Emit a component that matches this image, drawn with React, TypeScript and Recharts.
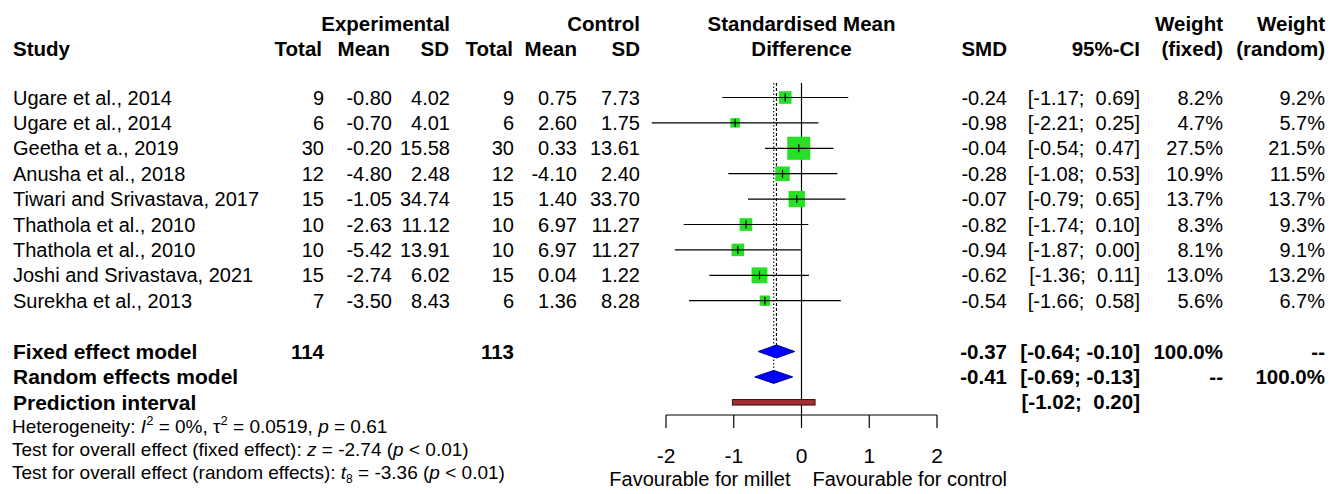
import React from "react";
import { ComposedChart, Scatter, XAxis, YAxis, ReferenceLine } from "recharts";

// study table
const studies = [
  "Ugare et al., 2014",
  "Ugare et al., 2014",
  "Geetha et a., 2019",
  "Anusha et al., 2018",
  "Tiwari and Srivastava, 2017",
  "Thathola et al., 2010",
  "Thathola et al., 2010",
  "Joshi and Srivastava, 2021",
  "Surekha et al., 2013",
];
const expTotal = [9, 6, 30, 12, 15, 10, 10, 15, 7];
const expMean = [-0.8, -0.7, -0.2, -4.8, -1.05, -2.63, -5.42, -2.74, -3.5];
const expSD = [4.02, 4.01, 15.58, 2.48, 34.74, 11.12, 13.91, 6.02, 8.43];
const ctlTotal = [9, 6, 30, 12, 15, 10, 10, 15, 6];
const ctlMean = [0.75, 2.6, 0.33, -4.1, 1.4, 6.97, 6.97, 0.04, 1.36];
const ctlSD = [7.73, 1.75, 13.61, 2.4, 33.7, 11.27, 11.27, 1.22, 8.28];
const smd = [-0.24, -0.98, -0.04, -0.28, -0.07, -0.82, -0.94, -0.62, -0.54];
const ciLow = [-1.17, -2.21, -0.54, -1.08, -0.79, -1.74, -1.87, -1.36, -1.66];
const ciHigh = [0.69, 0.25, 0.47, 0.53, 0.65, 0.1, 0.0, 0.11, 0.58];
const weightFixed = [8.2, 4.7, 27.5, 10.9, 13.7, 8.3, 8.1, 13.0, 5.6];
const weightRandom = [9.2, 5.7, 21.5, 11.5, 13.7, 9.3, 9.1, 13.2, 6.7];

// pooled results
const modelNames = ["Fixed effect model", "Random effects model"];
const modelSMD = [-0.37, -0.41];
const modelLow = [-0.64, -0.69];
const modelHigh = [-0.1, -0.13];
const modelWeightFixed = ["100.0%", "--"];
const modelWeightRandom = ["--", "100.0%"];
const totals = [114, 113];
const prediction = [-1.02, 0.2];

const xTicks = [-2, -1, 0, 1, 2];

const FONT = '"Liberation Sans", Arial, Helvetica, sans-serif';
const GREEN = "#26e026";
const FS = 20;
const FS_HEAD = 20.5;
const FS_MODEL = 21;

// layout
const W = 1341;
const H = 494;
const PLOT_LEFT = 666;
const PLOT_RIGHT = 937;
const AXIS_H = 79;
const TOP = 8.6;
const Y_MIN = -2.5;
const Y_MAX = 13.5;
const LINE_TOP = 0.43;

// right edges of the text columns
const COL = {
  study: 13,
  expTotal: 324,
  expMean: 392,
  expSD: 450,
  ctlTotal: 514,
  ctlMean: 577,
  ctlSD: 640,
  smd: 1007,
  ci: 1140,
  wFixed: 1223,
  wRandom: 1325,
};

const f2 = (v: number) => v.toFixed(2);
const ciText = (lo: number, hi: number) =>
  `[${lo < 0 ? "" : " "}${f2(lo)}; ${hi < 0 ? "" : " "}${f2(hi)}]`;

function T({
  x,
  y,
  children,
  anchor = "end",
  bold = false,
  size,
}: {
  x: number;
  y: number;
  children: React.ReactNode;
  anchor?: "start" | "middle" | "end";
  bold?: boolean;
  size?: number;
}) {
  return (
    <text
      x={x}
      y={y}
      dy="0.35em"
      textAnchor={anchor}
      fontSize={size ?? (bold ? FS_HEAD : FS)}
      fontWeight={bold ? "bold" : "normal"}
      fill="#000"
      xmlSpace="preserve"
      style={{ whiteSpace: "pre" }}
    >
      {children}
    </text>
  );
}

type Row = { x: number; y: number; kind: string; i: number };

const tableRows: Row[] = [
  { x: 0, y: -1.9, kind: "head1", i: 0 },
  { x: 0, y: -0.9, kind: "head2", i: 0 },
  ...studies.map((_, i) => ({ x: 0, y: i + 1, kind: "study", i })),
  ...modelNames.map((_, i) => ({ x: 0, y: 11 + i, kind: "model", i })),
  { x: 0, y: 13, kind: "pred", i: 0 },
];

function TableRow(props: any) {
  const { cx, cy, payload } = props;
  const r: Row = payload;
  if (r.kind === "head1") {
    return (
      <g>
        <T x={COL.expSD} y={cy} bold>Experimental</T>
        <T x={COL.ctlSD} y={cy} bold>Control</T>
        <T x={cx} y={cy} bold anchor="middle">Standardised Mean</T>
        <T x={COL.wFixed} y={cy} bold>Weight</T>
        <T x={COL.wRandom} y={cy} bold>Weight</T>
      </g>
    );
  }
  if (r.kind === "head2") {
    return (
      <g>
        <T x={COL.study} y={cy} bold anchor="start">Study</T>
        <T x={COL.expTotal - 2} y={cy} bold>Total</T>
        <T x={COL.expMean - 2} y={cy} bold>Mean</T>
        <T x={COL.expSD - 1} y={cy} bold>SD</T>
        <T x={COL.ctlTotal - 1} y={cy} bold>Total</T>
        <T x={COL.ctlMean} y={cy} bold>Mean</T>
        <T x={COL.ctlSD} y={cy} bold>SD</T>
        <T x={cx} y={cy} bold anchor="middle">Difference</T>
        <T x={COL.smd} y={cy} bold>SMD</T>
        <T x={COL.ci} y={cy} bold>95%-CI</T>
        <T x={COL.wFixed} y={cy} bold>(fixed)</T>
        <T x={COL.wRandom} y={cy} bold>(random)</T>
      </g>
    );
  }
  if (r.kind === "study") {
    const i = r.i;
    return (
      <g>
        <T x={COL.study} y={cy} anchor="start">{studies[i]}</T>
        <T x={COL.expTotal} y={cy}>{expTotal[i]}</T>
        <T x={COL.expMean} y={cy}>{f2(expMean[i])}</T>
        <T x={COL.expSD} y={cy}>{f2(expSD[i])}</T>
        <T x={COL.ctlTotal} y={cy}>{ctlTotal[i]}</T>
        <T x={COL.ctlMean} y={cy}>{f2(ctlMean[i])}</T>
        <T x={COL.ctlSD} y={cy}>{f2(ctlSD[i])}</T>
        <T x={COL.smd} y={cy}>{f2(smd[i])}</T>
        <T x={COL.ci} y={cy}>{ciText(ciLow[i], ciHigh[i])}</T>
        <T x={COL.wFixed} y={cy}>{weightFixed[i].toFixed(1)}%</T>
        <T x={COL.wRandom} y={cy}>{weightRandom[i].toFixed(1)}%</T>
      </g>
    );
  }
  if (r.kind === "model") {
    const i = r.i;
    return (
      <g>
        <T x={COL.study} y={cy} bold size={FS_MODEL} anchor="start">{modelNames[i]}</T>
        {i === 0 && <T x={COL.expTotal} y={cy} bold>{totals[0]}</T>}
        {i === 0 && <T x={COL.ctlTotal} y={cy} bold>{totals[1]}</T>}
        <T x={COL.smd} y={cy} bold>{f2(modelSMD[i])}</T>
        <T x={COL.ci} y={cy} bold>{ciText(modelLow[i], modelHigh[i])}</T>
        <T x={COL.wFixed} y={cy} bold>{modelWeightFixed[i]}</T>
        <T x={COL.wRandom} y={cy} bold>{modelWeightRandom[i]}</T>
      </g>
    );
  }
  // prediction row + footer notes
  const small = 19;
  return (
    <g>
      <T x={COL.study} y={cy} bold size={FS_MODEL} anchor="start">Prediction interval</T>
      <T x={COL.ci} y={cy} bold>{ciText(prediction[0], prediction[1])}</T>
      <T x={12} y={cy + 24} size={small} anchor="start">
        Heterogeneity:{" "}
        <tspan fontStyle="italic">I</tspan>
        <tspan dy={-8} fontSize={13}>2</tspan>
        <tspan dy={8}> = 0%, τ</tspan>
        <tspan dy={-8} fontSize={13}>2</tspan>
        <tspan dy={8}> = 0.0519, </tspan>
        <tspan fontStyle="italic">p</tspan>
        <tspan> = 0.61</tspan>
      </T>
      <T x={12} y={cy + 47} size={small} anchor="start">
        Test for overall effect (fixed effect):{" "}
        <tspan fontStyle="italic">z</tspan>
        <tspan> = -2.74 (</tspan>
        <tspan fontStyle="italic">p</tspan>
        <tspan> &lt; 0.01)</tspan>
      </T>
      <T x={12} y={cy + 70} size={small} anchor="start">
        Test for overall effect (random effects):{" "}
        <tspan fontStyle="italic">t</tspan>
        <tspan dy={4} fontSize={12}>8</tspan>
        <tspan dy={-4}> = -3.36 (</tspan>
        <tspan fontStyle="italic">p</tspan>
        <tspan> &lt; 0.01)</tspan>
      </T>
      <T x={cx - 11} y={cy + 77} anchor="end">Favourable for millet</T>
      <T x={cx + 11} y={cy + 77} anchor="start">Favourable for control</T>
    </g>
  );
}

function StudyMark(props: any) {
  const { x1, y1, x2, y2, est, lo, hi, w } = props;
  const ex = x1 + ((est - lo) / (hi - lo)) * (x2 - x1);
  const s = 4.4 * Math.sqrt(w);
  return (
    <g>
      <rect x={ex - s / 2} y={y1 - s / 2} width={s} height={s} fill={GREEN} />
      <line x1={x1} y1={y1} x2={x2} y2={y2} stroke="#000" strokeWidth={1.2} />
      <line x1={ex} y1={y1 - 4} x2={ex} y2={y1 + 4} stroke="#000" strokeWidth={1.2} />
    </g>
  );
}

function Diamond(props: any) {
  const { x1, y1, x2, est, lo, hi } = props;
  const ex = x1 + ((est - lo) / (hi - lo)) * (x2 - x1);
  const h = 6.5;
  return (
    <polygon
      points={`${x1},${y1} ${ex},${y1 - h} ${x2},${y1} ${ex},${y1 + h}`}
      fill="#0000ff"
      stroke="#00008b"
      strokeWidth={1}
    />
  );
}

function PredictionBar(props: any) {
  const { x1, y1, x2 } = props;
  const h = 5.5;
  return (
    <rect
      x={x1}
      y={y1 - h / 2}
      width={x2 - x1}
      height={h}
      fill="#a33030"
      stroke="#3a0c0c"
      strokeWidth={1}
    />
  );
}

export default function App() {
  return (
    <div style={{ position: "absolute", left: 0, top: 0, background: "#fff" }}>
      <ComposedChart
        width={W}
        height={H}
        margin={{ top: TOP, left: PLOT_LEFT, right: W - PLOT_RIGHT, bottom: 0 }}
        style={{ fontFamily: FONT }}
      >
        <XAxis
          type="number"
          dataKey="x"
          domain={[-2, 2]}
          ticks={xTicks}
          interval={0}
          height={AXIS_H}
          tickSize={13}
          tickMargin={20}
          stroke="#000"
          axisLine={{ stroke: "#000", strokeWidth: 1.2 }}
          tickLine={{ stroke: "#000", strokeWidth: 1.2 }}
          tick={{ fill: "#000", fontSize: 21 }}
        />
        <YAxis type="number" dataKey="y" domain={[Y_MIN, Y_MAX]} reversed hide />

        {/* reference lines: no effect, fixed and random estimates */}
        <ReferenceLine
          segment={[{ x: 0, y: LINE_TOP }, { x: 0, y: Y_MAX }]}
          stroke="#000"
          strokeWidth={1.2}
          ifOverflow="visible"
        />
        <ReferenceLine
          segment={[{ x: modelSMD[0], y: LINE_TOP }, { x: modelSMD[0], y: 11 }]}
          stroke="#000"
          strokeWidth={1.1}
          strokeDasharray="3 2"
          ifOverflow="visible"
        />
        <ReferenceLine
          segment={[{ x: modelSMD[1], y: LINE_TOP }, { x: modelSMD[1], y: 12 }]}
          stroke="#000"
          strokeWidth={1.1}
          strokeDasharray="1.5 2"
          ifOverflow="visible"
        />

        {studies.map((s, i) => (
          <ReferenceLine
            key={`st-${i}`}
            segment={[{ x: ciLow[i], y: i + 1 }, { x: ciHigh[i], y: i + 1 }]}
            ifOverflow="visible"
            shape={(p: any) => (
              <StudyMark {...p} est={smd[i]} lo={ciLow[i]} hi={ciHigh[i]} w={weightFixed[i]} />
            )}
          />
        ))}

        {modelNames.map((m, i) => (
          <ReferenceLine
            key={`md-${i}`}
            segment={[{ x: modelLow[i], y: 11 + i }, { x: modelHigh[i], y: 11 + i }]}
            ifOverflow="visible"
            shape={(p: any) => (
              <Diamond {...p} est={modelSMD[i]} lo={modelLow[i]} hi={modelHigh[i]} />
            )}
          />
        ))}

        <ReferenceLine
          segment={[{ x: prediction[0], y: 13 }, { x: prediction[1], y: 13 }]}
          ifOverflow="visible"
          shape={(p: any) => <PredictionBar {...p} />}
        />

        <Scatter
          data={tableRows}
          isAnimationActive={false}
          shape={(p: any) => <TableRow {...p} />}
        />
      </ComposedChart>
    </div>
  );
}
